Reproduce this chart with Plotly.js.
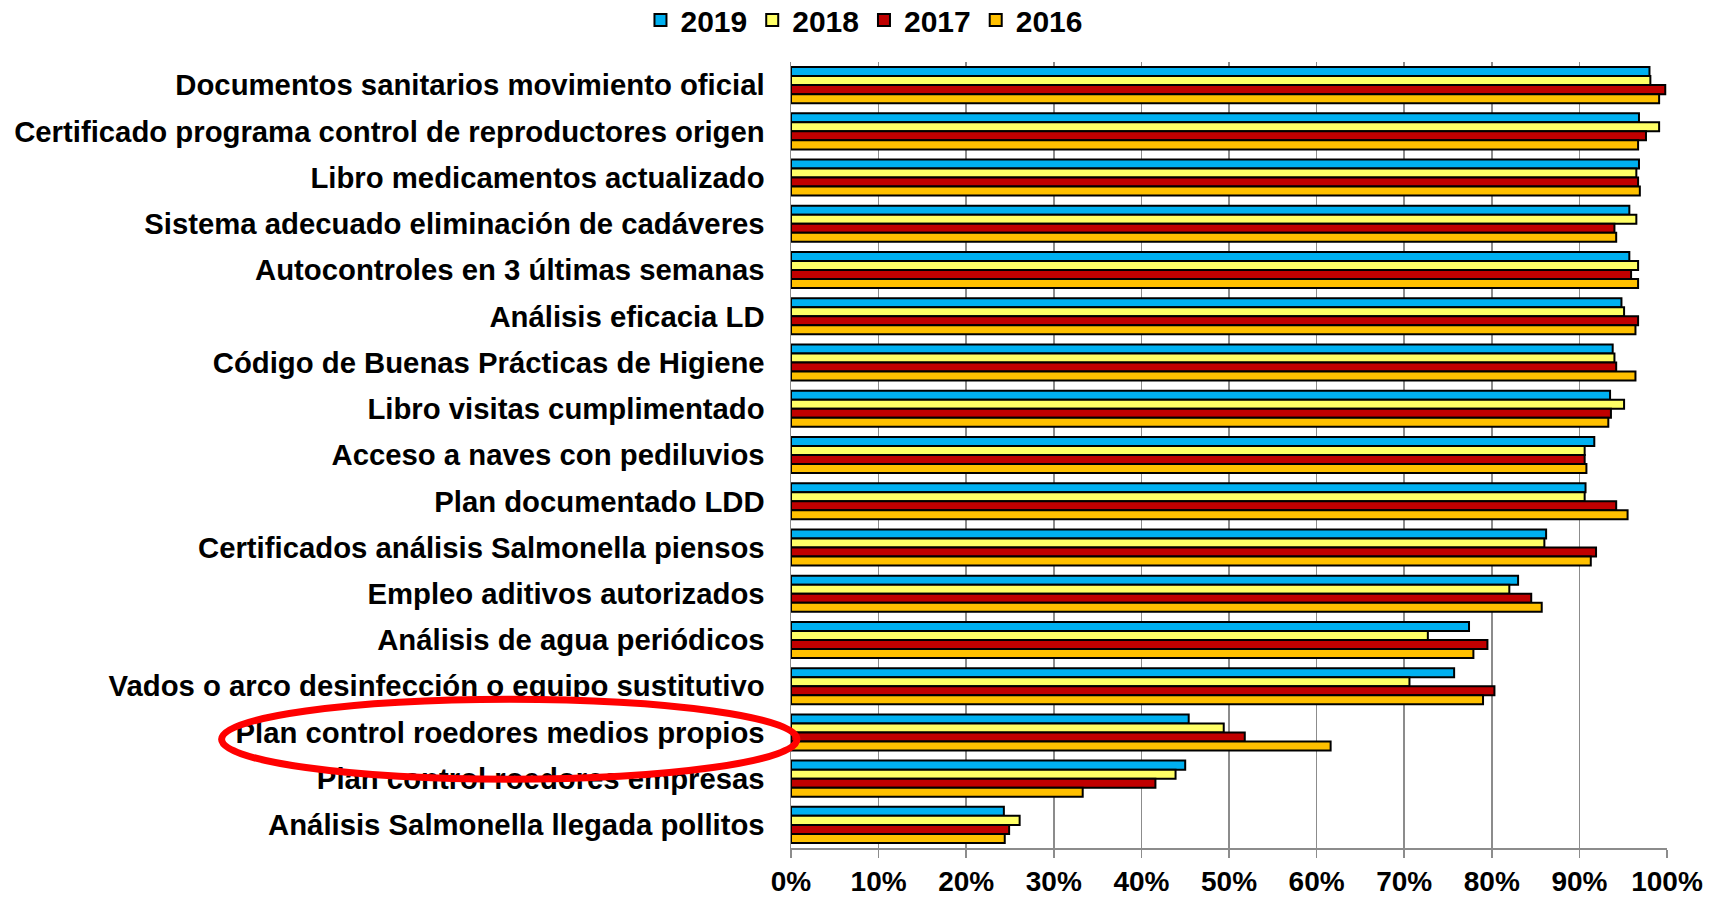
<!DOCTYPE html>
<html>
<head>
<meta charset="utf-8">
<script src="https://cdn.plot.ly/plotly-3.0.1.min.js"></script>
<style>html,body{margin:0;padding:0;background:#fff;}#chart{width:1717px;height:897px;}</style>
</head>
<body>
<div id="chart"></div>
<script>
const categories = [
  "Documentos sanitarios movimiento oficial",
  "Certificado programa control de reproductores origen",
  "Libro medicamentos actualizado",
  "Sistema adecuado eliminación de cadáveres",
  "Autocontroles en 3 últimas semanas",
  "Análisis eficacia LD",
  "Código de Buenas Prácticas de Higiene",
  "Libro visitas cumplimentado",
  "Acceso a naves con pediluvios",
  "Plan documentado LDD",
  "Certificados análisis Salmonella piensos",
  "Empleo aditivos autorizados",
  "Análisis de agua periódicos",
  "Vados o arco desinfección o equipo sustitutivo",
  "Plan control roedores medios propios",
  "Plan control roedores empresas",
  "Análisis Salmonella llegada pollitos"
];
const years = ["2019", "2018", "2017", "2016"];
const v2019 = [98.0, 96.8, 96.8, 95.7, 95.7, 94.8, 93.8, 93.5, 91.7, 90.7, 86.2, 83.0, 77.4, 75.7, 45.4, 45.0, 24.3];
const v2018 = [98.1, 99.1, 96.5, 96.5, 96.7, 95.1, 94.0, 95.1, 90.6, 90.6, 86.0, 82.0, 72.7, 70.6, 49.4, 43.9, 26.1];
const v2017 = [99.8, 97.6, 96.7, 94.0, 95.9, 96.7, 94.2, 93.6, 90.6, 94.2, 91.9, 84.5, 79.5, 80.3, 51.8, 41.6, 24.9];
const v2016 = [99.1, 96.7, 96.9, 94.2, 96.7, 96.4, 96.4, 93.3, 90.8, 95.5, 91.3, 85.7, 77.9, 79.0, 61.6, 33.3, 24.4];
const tickVals = [0, 10, 20, 30, 40, 50, 60, 70, 80, 90, 100];
const tickText = ["0%", "10%", "20%", "30%", "40%", "50%", "60%", "70%", "80%", "90%", "100%"];

const series = [v2019, v2018, v2017, v2016];
const colors = ["#00B0F0", "#FFFF66", "#C00000", "#FFC000"];

const traces = series.map((vals, i) => ({
  type: "bar",
  orientation: "h",
  name: years[i],
  x: vals,
  y: categories,
  marker: { color: colors[i], line: { color: "#000", width: 2 } },
  hoverinfo: "skip"
}));

const gridColor = "#8c8c8c";
const layout = {
  width: 1717,
  height: 897,
  margin: { l: 791, r: 50, t: 62, b: 49, autoexpand: false },
  paper_bgcolor: "#fff",
  plot_bgcolor: "#fff",
  font: { family: "Liberation Sans, Arial, sans-serif", color: "#000", size: 28, weight: "bold" },
  barmode: "group",
  bargap: 0.22,
  bargroupgap: 0,
  showlegend: true,
  legend: {
    orientation: "h",
    x: 0.0833, xanchor: "center",
    y: 1.0535, yanchor: "middle",
    yref: "paper",
    font: { size: 30, weight: "bold" },
    itemclick: false
  },
  xaxis: {
    range: [0, 100],
    tickmode: "array",
    tickvals: tickVals,
    ticktext: tickText,
    showgrid: true,
    gridcolor: gridColor,
    gridwidth: 1.5,
    showline: true,
    linecolor: gridColor,
    linewidth: 1.5,
    ticks: "outside",
    ticklen: 8,
    tickcolor: gridColor,
    tickwidth: 1.5,
    zeroline: false,
    tickfont: { size: 28, weight: "bold" },
    fixedrange: true
  },
  yaxis: {
    autorange: "reversed",
    type: "category",
    showline: true,
    linecolor: gridColor,
    linewidth: 1.5,
    showgrid: false,
    ticks: "",
    ticklabelstandoff: 19,
    tickfont: { size: 29.3, weight: "bold" },
    fixedrange: true
  },
  shapes: [{
    type: "circle",
    xref: "paper", yref: "paper",
    x0: -0.650, x1: 0.0068,
    y0: 0.0874, y1: 0.1893,
    line: { color: "#FF0000", width: 7 },
    fillcolor: "rgba(0,0,0,0)",
    layer: "above"
  }]
};

Plotly.newPlot("chart", traces, layout, { displayModeBar: false, staticPlot: true });
</script>
</body>
</html>
